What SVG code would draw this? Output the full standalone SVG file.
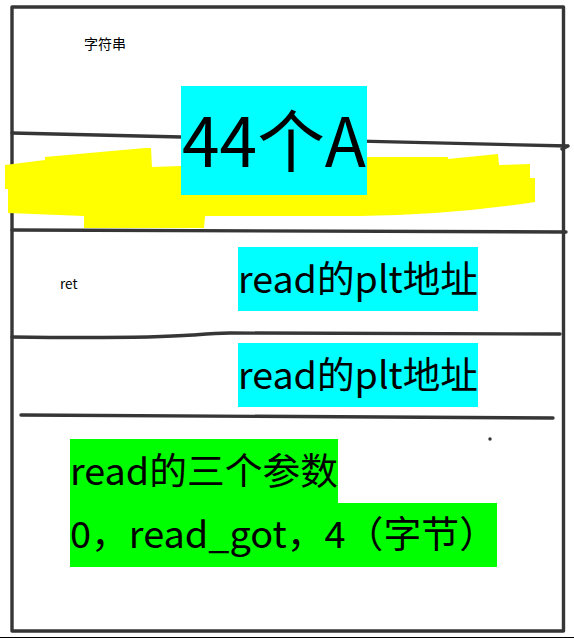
<svg xmlns="http://www.w3.org/2000/svg" width="574" height="638" viewBox="0 0 574 638">
  <style>
    .ln { fill: none; stroke: #363636; stroke-width: 3.4; stroke-linecap: round; stroke-linejoin: round; }
    .t { font-family: "Noto Sans CJK SC", "Microsoft YaHei", sans-serif; fill: #000; }
    .cyan { fill: #00ffff; }
    .green { fill: #00ff00; }
  </style>
  <rect x="0" y="0" width="574" height="638" fill="#ffffff"/>
  <line x1="0" y1="637.5" x2="574" y2="637.5" stroke="#000" stroke-width="1"/>

  <g id="frame">
    <rect class="ln" x="12" y="7" width="551.5" height="624"/>
  </g>

  <g id="connectors">
    <path class="ln" d="M12,133 L568,146 M568,146 L562,149"/>
    <path class="ln" d="M12,230 L566,232"/>
    <path class="ln" d="M12,337 C90,338 150,338 193,335 C205,334 215,333 230,333 L560,334"/>
    <path class="ln" d="M21,415 L553,418"/>
    <circle cx="490" cy="439" r="1.7" fill="#333"/>
  </g>

  <g id="highlight">
    <path fill="#ffff00" d="M5,165 L45,160 L45,157 L145,148 L151,148 L152,167 L182,166 L367,166 L367,157 L448,157 L448,159 L498,154 L499,165 L530,164 L530,178 L535,178 L535,202 Q450,215 360,216 L205,216 L204,228 L84,228 L84,216 L8,213 L8,189 L5,189 Z"/>
  </g>

  <g id="node-string-label">
    <text class="t" x="84" y="49" font-size="14">字符串</text>
  </g>

  <g id="node-44A">
    <rect class="cyan" x="181" y="86" width="186" height="109"/>
    <text class="t" x="182" y="167" font-size="68" textLength="184" lengthAdjust="spacingAndGlyphs">44个A</text>
  </g>

  <g id="node-ret-label">
    <text class="t" x="60" y="289" font-size="13.5">ret</text>
  </g>

  <g id="node-plt1">
    <rect class="cyan" x="238" y="247" width="240" height="64"/>
    <text class="t" x="238" y="293" font-size="37" textLength="240" lengthAdjust="spacingAndGlyphs">read的plt地址</text>
  </g>

  <g id="node-plt2">
    <rect class="cyan" x="238" y="343" width="240" height="64"/>
    <text class="t" x="238" y="389" font-size="37" textLength="240" lengthAdjust="spacingAndGlyphs">read的plt地址</text>
  </g>

  <g id="node-args">
    <rect class="green" x="70" y="439" width="268" height="64"/>
    <rect class="green" x="70" y="503" width="427" height="64"/>
    <text class="t" x="70" y="485" font-size="37" textLength="268" lengthAdjust="spacingAndGlyphs">read的三个参数</text>
    <text class="t" x="70" y="548" font-size="37" textLength="427" lengthAdjust="spacingAndGlyphs">0，read_got，4（字节）</text>
  </g>
</svg>
